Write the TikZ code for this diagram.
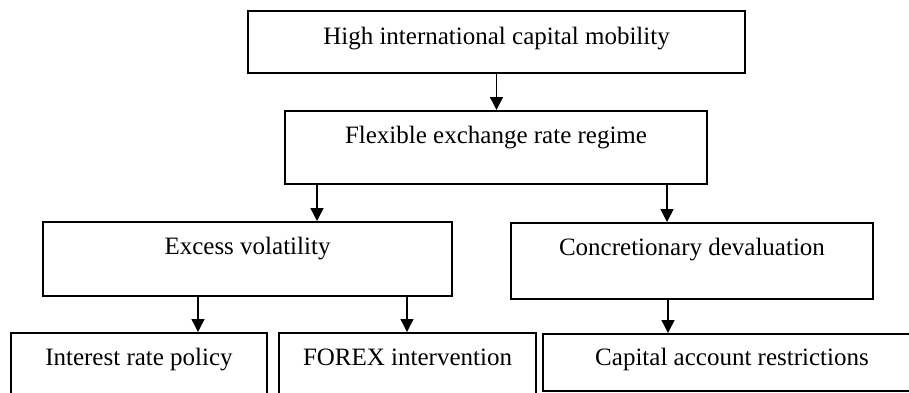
\documentclass[tikz,border=0pt]{standalone}
\usepackage{fontspec}
\setmainfont{Liberation Serif}
\usetikzlibrary{arrows.meta}
\tikzset{>={Triangle[width=13pt,length=13pt]}}
\tikzset{
  box/.style={draw, line width=1.6pt, inner sep=0pt, anchor=north, text height=33pt, font=\fontsize{25}{30}\selectfont},
  flow/.style={->, line width=1.4pt}
}

\begin{document}
\begin{tikzpicture}[x=1pt,y=-1pt]
    \useasboundingbox (0,0) rectangle (909,392);
    \clip (0,0) rectangle (909,392);
    \node[box, minimum width=497pt, text height=34pt, text depth=28pt] (mob) at (496.5,10) {High international capital mobility};
    \node[box, minimum width=422pt, text depth=40pt] (reg) at (496,110) {Flexible exchange rate regime};
    \node[box, minimum width=409pt, text depth=41pt] (vol) at (247.5,221) {Excess volatility};
    \node[box, minimum width=362pt, text depth=43pt] (dev) at (692,222) {Concretionary devaluation};
    \node[box, minimum width=256pt, text depth=70pt] (rate) at (139,332) {Interest rate policy};
    \node[box, minimum width=257pt, text depth=70pt] (forex) at (407.5,332) {FOREX intervention};
    \node[box, minimum width=378pt, text height=32pt, text depth=25pt] (restr) at (732,333) {Capital account restrictions};
    \draw[flow] (mob.south) -- (mob.south |- reg.north);
    \draw[flow] ([xshift=-179pt]reg.south) -- ([xshift=-179pt]reg.south |- vol.north);
    \draw[flow] ([xshift=171pt]reg.south) -- ([xshift=171pt]reg.south |- dev.north);
    \draw[flow] ([xshift=-49.5pt]vol.south) -- ([xshift=-49.5pt]vol.south |- rate.north);
    \draw[flow] ([xshift=159.5pt]vol.south) -- ([xshift=159.5pt]vol.south |- forex.north);
    \draw[flow] ([xshift=-24pt]dev.south) -- ([xshift=-24pt]dev.south |- restr.north);
\end{tikzpicture}
\end{document}
